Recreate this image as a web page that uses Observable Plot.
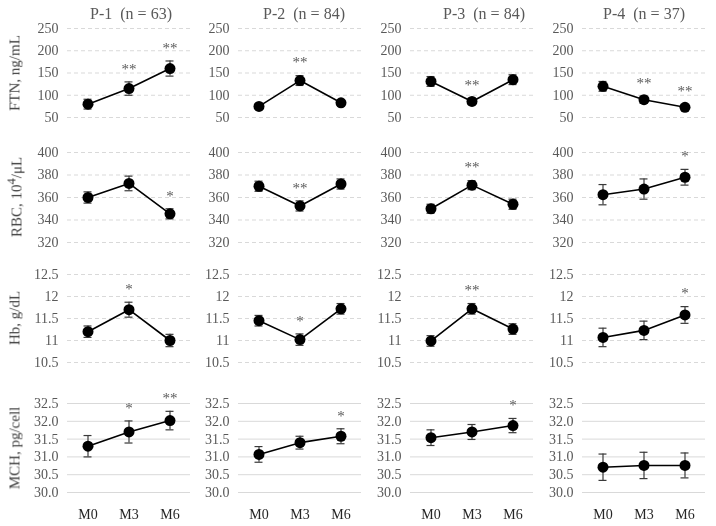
<!DOCTYPE html>
<html><head><meta charset="utf-8">
<script src="https://cdn.jsdelivr.net/npm/d3@7"></script>
<script src="https://cdn.jsdelivr.net/npm/@observablehq/plot@0.6"></script>
<style>
body{margin:0;background:#fff;}
#chart{position:relative;width:716px;height:526px;font-family:"Liberation Serif","Times New Roman",serif;overflow:hidden;background:#fff;}
#chart svg, #chart svg text{font-family:"Liberation Serif","Times New Roman",serif !important;}
.cell{position:absolute;will-change:transform;}
.title{position:absolute;width:200px;text-align:center;font-size:16px;color:#595959;white-space:pre;line-height:1;}
.rowlab{position:absolute;text-align:center;font-size:15px;color:#404040;transform:translate(-50%,-50%) rotate(-90deg);white-space:nowrap;line-height:1;}
</style></head><body><div id="chart"></div>
<script>
// ---- data ----
const months = ["M0", "M3", "M6"];
const groups = ["P-1", "P-2", "P-3", "P-4"];
const groupN = [63, 84, 84, 37];

const ftnLabel = "FTN, ng/mL";
const ftnTicks = [50, 100, 150, 200, 250];
const ftnMean = [[80, 115, 160], [75, 133, 83], [131, 86, 135], [120, 90, 73]];
const ftnErr  = [[11, 15, 17], [5, 11, 5], [11, 7, 11], [11, 8, 6]];
const ftnStar = [["", "**", "**"], ["", "**", ""], ["", "**", ""], ["", "**", "**"]];

const rbcLabel = "RBC, 10<sup>4</sup>/μL";
const rbcTicks = [320, 340, 360, 380, 400];
const rbcMean = [[360, 372.5, 345.5], [370, 352.5, 372], [350, 371, 354], [362.5, 367.5, 378]];
const rbcErr  = [[5, 6.5, 4.5], [4.5, 4.5, 4.5], [4, 4, 4.5], [9, 9, 7]];
const rbcStar = [["", "", "*"], ["", "**", ""], ["", "**", ""], ["", "", "*"]];

const hbLabel = "Hb, g/dL";
const hbTicks = [10.5, 11, 11.5, 12, 12.5];
const hbMean = [[11.2, 11.7, 11.0], [11.45, 11.02, 11.72], [10.99, 11.72, 11.26], [11.07, 11.23, 11.58]];
const hbErr  = [[0.13, 0.17, 0.14], [0.12, 0.13, 0.12], [0.12, 0.12, 0.12], [0.21, 0.21, 0.19]];
const hbStar = [["", "*", ""], ["", "*", ""], ["", "**", ""], ["", "", "*"]];

const mchLabel = "MCH, pg/cell";
const mchTicks = [30.0, 30.5, 31.0, 31.5, 32.0, 32.5];
const mchMean = [[31.3, 31.7, 32.02], [31.07, 31.4, 31.58], [31.54, 31.7, 31.88], [30.71, 30.76, 30.76]];
const mchErr  = [[0.3, 0.31, 0.26], [0.22, 0.18, 0.21], [0.22, 0.21, 0.2], [0.37, 0.37, 0.35]];
const mchStar = [["", "*", "**"], ["", "", "*"], ["", "", "*"], ["", "", ""]];

// ---- layout ----
const font = "Liberation Serif";
const metrics = [
  {label: ftnLabel, ticks: ftnTicks, mean: ftnMean, err: ftnErr, star: ftnStar, fmt: d3.format("d"), dash: "4,3"},
  {label: rbcLabel, ticks: rbcTicks, mean: rbcMean, err: rbcErr, star: rbcStar, fmt: d3.format("d"), dash: "4,3"},
  {label: hbLabel, ticks: hbTicks, mean: hbMean, err: hbErr, star: hbStar, fmt: d => String(d), dash: "4,3"},
  {label: mchLabel, ticks: mchTicks, mean: mchMean, err: mchErr, star: mchStar, fmt: d3.format(".1f"), dash: null}
];
const gridTop = [28, 152, 274, 403];
const gridBottom = [117, 242, 362, 492];
const gridLeft = [67, 238, 410, 582];
const gridW = 123;
const titleCenter = [131, 304, 484, 644];
const mL = 50, mR = 3, mT = 25;

const chart = document.getElementById("chart");

metrics.forEach((m, r) => {
  const last = r === metrics.length - 1;
  const mB = last ? 34 : 8;
  const height = mT + (gridBottom[r] - gridTop[r]) + mB;
  groups.forEach((g, c) => {
    const rows = months.map((mo, i) => ({month: mo, mean: m.mean[c][i], err: m.err[c][i], star: m.star[c][i]}));
    const marks = [
      Plot.gridY(m.ticks, {stroke: "#d9d9d9", strokeOpacity: 1, strokeWidth: 1, strokeDasharray: m.dash}),
      Plot.axisY(m.ticks, {tickSize: 0, tickPadding: 9, tickFormat: m.fmt, fill: "#595959", fontSize: 14, fontFamily: font, label: null}),
      Plot.ruleX(rows, {x: "month", y1: d => d.mean - d.err, y2: d => d.mean + d.err, stroke: "#3a3a3a", strokeWidth: 1.2}),
      Plot.tickY(rows, {x: "month", y: d => d.mean + d.err, stroke: "#3a3a3a", strokeWidth: 1.2, insetLeft: 16.5, insetRight: 16.5}),
      Plot.tickY(rows, {x: "month", y: d => d.mean - d.err, stroke: "#3a3a3a", strokeWidth: 1.2, insetLeft: 16.5, insetRight: 16.5}),
      Plot.line(rows, {x: "month", y: "mean", stroke: "black", strokeWidth: 1.6}),
      Plot.dot(rows, {x: "month", y: "mean", r: 5.5, fill: "black", stroke: "none"}),
      Plot.text(rows.filter(d => d.star), {x: "month", y: d => d.mean + d.err, text: "star", dy: -13, fill: "#595959", fontSize: 15, fontFamily: font})
    ];
    if (last) marks.push(Plot.axisX(months, {tickSize: 0, tickPadding: 17, fill: "#262626", fontSize: 14, fontFamily: font, label: null}));
    const p = Plot.plot({
      width: mL + gridW + mR,
      height,
      marginLeft: mL, marginRight: mR, marginTop: mT, marginBottom: mB,
      x: {type: "band", domain: months, padding: 0, axis: null},
      y: {domain: [m.ticks[0], m.ticks[m.ticks.length - 1]], axis: null},
      style: {fontFamily: font, background: "transparent", overflow: "visible"},
      marks
    });
    p.classList.add("cell");
    p.style.left = (gridLeft[c] - mL) + "px";
    p.style.top = (gridTop[r] - mT) + "px";
    chart.appendChild(p);
  });
  const lab = document.createElement("div");
  lab.className = "rowlab";
  lab.innerHTML = m.label;
  lab.style.left = "15px";
  lab.style.top = ((gridTop[r] + gridBottom[r]) / 2) + "px";
  chart.appendChild(lab);
});

groups.forEach((g, c) => {
  const t = document.createElement("div");
  t.className = "title";
  t.textContent = `${g}  (n = ${groupN[c]})`;
  t.style.left = (titleCenter[c] - 100) + "px";
  t.style.top = "6px";
  chart.appendChild(t);
});
</script></body></html>
